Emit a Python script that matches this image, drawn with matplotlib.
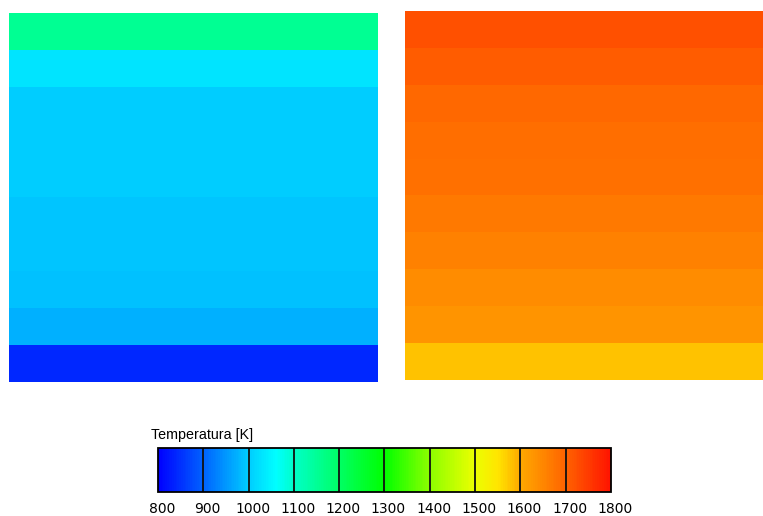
import numpy as np
import matplotlib
matplotlib.use("Agg")
import matplotlib.pyplot as plt
from matplotlib.colors import LinearSegmentedColormap, Normalize
from matplotlib.transforms import ScaledTranslation

# colour scale of the legend (value in K, rgb 0-255)
scale_values = [800, 900, 1000, 1060, 1100, 1200, 1300, 1400, 1500, 1550, 1600, 1700, 1800]
scale_colors = [(0, 0, 255), (0, 100, 255), (0, 205, 255), (0, 255, 255), (0, 255, 200),
                (0, 255, 100), (0, 255, 0), (140, 255, 0), (235, 255, 0), (255, 230, 0),
                (255, 170, 0), (255, 100, 0), (255, 20, 0)]

# cell temperatures, top row first
left_temps = [1155, 1028, 1003, 1002, 1001, 993, 992, 991, 974, 840]
right_temps = [1722, 1710, 1694, 1683, 1682, 1671, 1657, 1643, 1629, 1579]

ticks = [800, 900, 1000, 1100, 1200, 1300, 1400, 1500, 1600, 1700, 1800]
vmin, vmax = 800, 1800

pos = [(v - vmin) / (vmax - vmin) for v in scale_values]
cols = [tuple(c / 255 for c in rgb) for rgb in scale_colors]
cmap = LinearSegmentedColormap.from_list("temp", list(zip(pos, cols)))
norm = Normalize(vmin, vmax)

W, H = 763, 516
fig = plt.figure(figsize=(W / 100, H / 100), dpi=100)

def panel(rect, temps):
    ax = fig.add_axes(rect)
    data = np.array(temps)[::-1].reshape(-1, 1)
    m = ax.pcolormesh(data, cmap=cmap, norm=norm, shading="flat")
    ax.set_xlim(0, 1)
    ax.set_ylim(0, len(temps))
    ax.set_axis_off()
    return m

mesh = panel([9 / W, (H - 382) / H, 369 / W, 369 / H], left_temps)
panel([405 / W, (H - 380) / H, 358 / W, 369 / H], right_temps)

# legend bar
cax = fig.add_axes([158 / W, (H - 492) / H, 453 / W, 44 / H])
cbar = fig.colorbar(mesh, cax=cax, orientation="horizontal", ticks=ticks)
cbar.outline.set_linewidth(1.3)
cbar.outline.set_edgecolor("black")
for t in ticks[1:-1]:
    cax.axvline(t, color="#111111", lw=1.3)
cax.tick_params(length=0, pad=7.5, labelsize=10)
cbar.set_ticklabels([str(t) for t in ticks])
shift = ScaledTranslation(4 / 100, 0, fig.dpi_scale_trans)
for lab in cax.get_xticklabels():
    lab.set_family("DejaVu Sans")
    lab.set_transform(lab.get_transform() + shift)
fig.text(151 / W, (H - 435) / H, "Temperatura [K]", fontsize=10.3,
         family=["Liberation Sans", "DejaVu Sans"], va="center", ha="left")

fig.savefig("out.png", dpi=100)
